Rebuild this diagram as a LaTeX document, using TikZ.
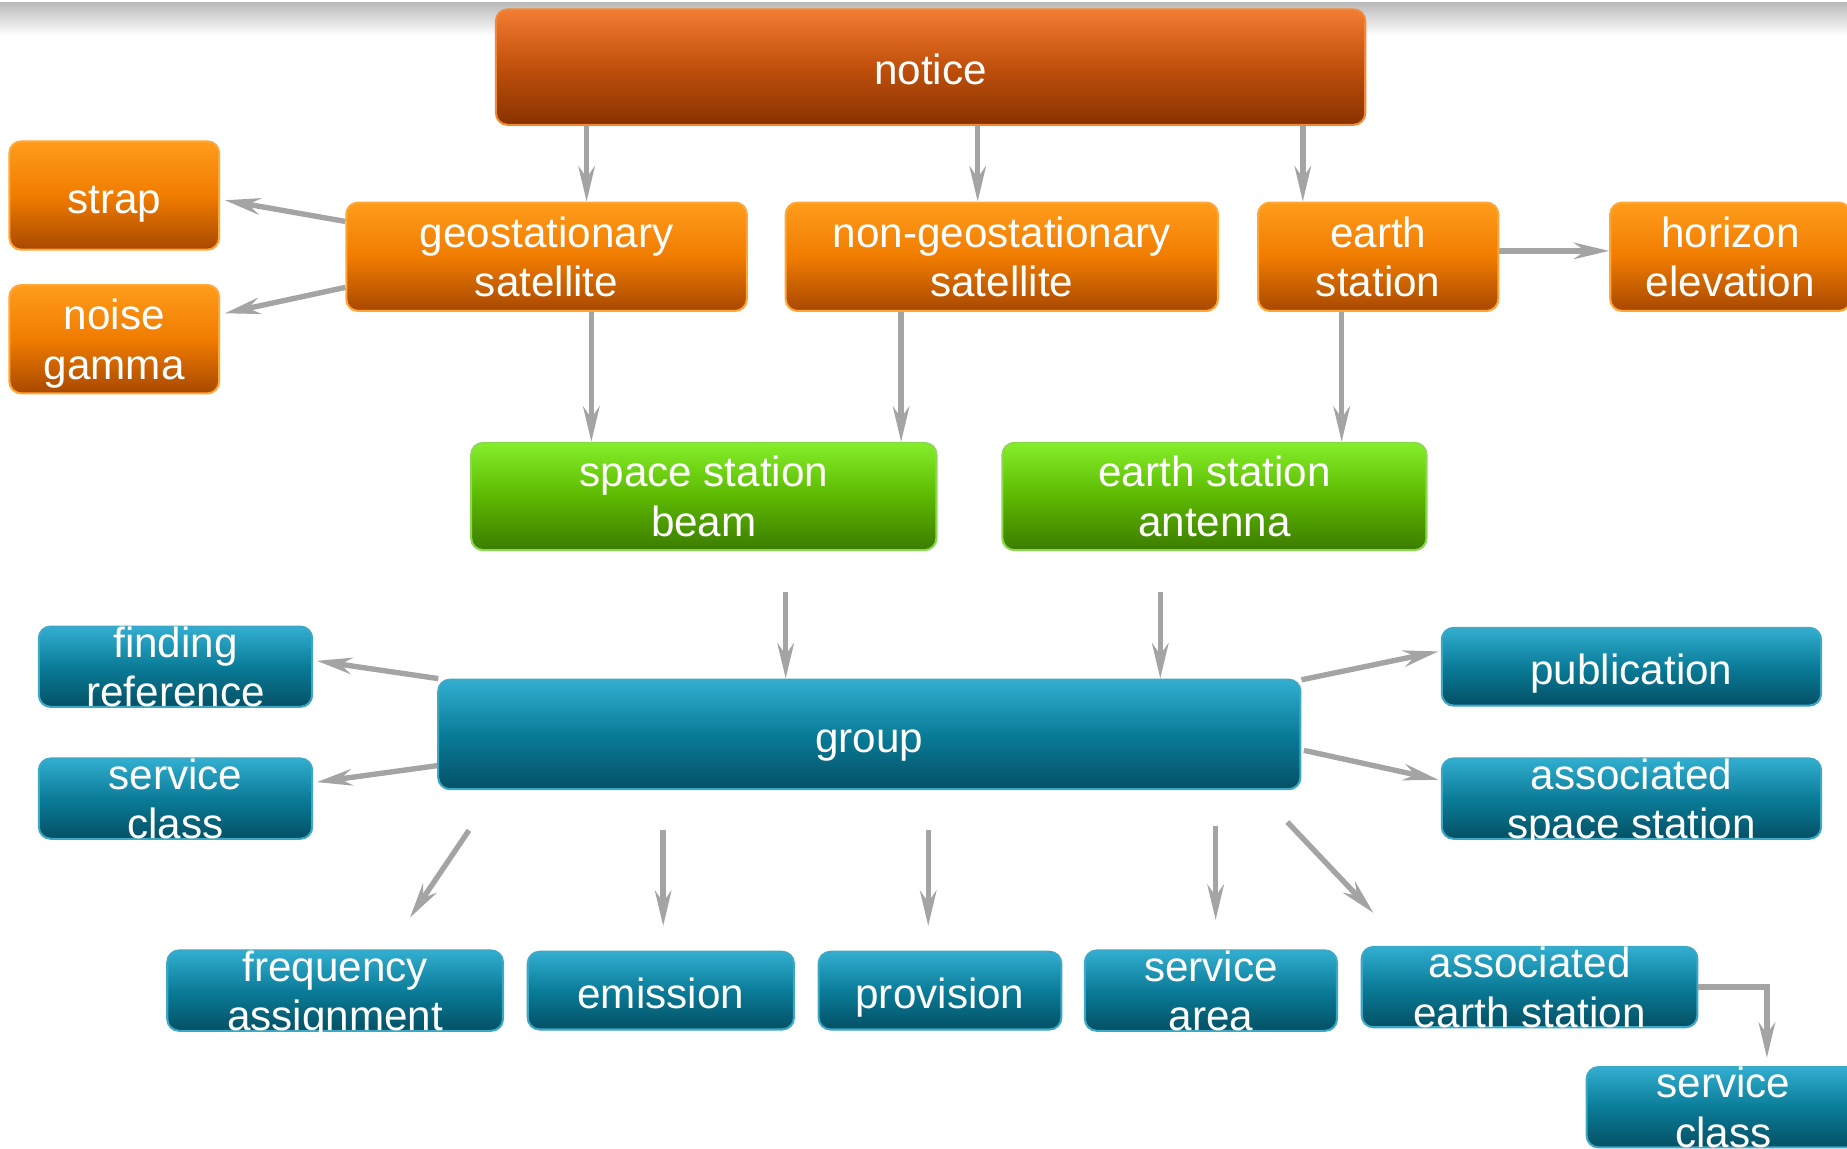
\documentclass[tikz,border=0pt]{standalone}
\usepackage{fontspec}
\setmainfont{Liberation Sans}
\usetikzlibrary{arrows.meta}

\definecolor{noticetop}{HTML}{F47B32}
\definecolor{noticemid}{HTML}{C0500C}
\definecolor{noticebot}{HTML}{873200}
\definecolor{noticeline}{HTML}{F08838}
\definecolor{orangetop}{HTML}{FF9C1C}
\definecolor{orangemid}{HTML}{F07C00}
\definecolor{orangebot}{HTML}{A84800}
\definecolor{orangeline}{HTML}{FFA638}
\definecolor{greentop}{HTML}{84EE2A}
\definecolor{greenmid}{HTML}{5CB800}
\definecolor{greenbot}{HTML}{3C7C00}
\definecolor{greenline}{HTML}{8CD850}
\definecolor{bluetop}{HTML}{32AED0}
\definecolor{bluemid}{HTML}{0A7C98}
\definecolor{bluebot}{HTML}{045064}
\definecolor{blueline}{HTML}{3CA8C6}
\definecolor{arrgray}{HTML}{A4A4A4}

\tikzset{
	box/.style = {rectangle, rounded corners = 0.1cm, inner sep = 0pt, align = center,
		text = white, font = \fontsize{10.2}{12}\selectfont, line width = 0.5pt,
		text height = 9.3pt, text depth = 0.8pt},
	twolines/.style = {text height = 19.4pt, text depth = -1pt},
	noticebox/.style = {box, draw = noticeline, top color = noticetop, bottom color = noticebot, middle color = noticemid},
	orangebox/.style = {box, draw = orangeline, top color = orangetop, bottom color = orangebot, middle color = orangemid},
	greenbox/.style = {box, draw = greenline, top color = greentop, bottom color = greenbot, middle color = greenmid},
	bluebox/.style = {box, draw = blueline, top color = bluetop, bottom color = bluebot, middle color = bluemid},
	arr/.style = {draw = arrgray, line width = 1.3pt, -{Stealth[length = 0.3cm, width = 0.14cm]}}
}

\begin{document}
\begin{tikzpicture}
		\useasboundingbox (0,0) rectangle (15.68,-9.746);
		\shade[top color = gray!55, bottom color = white] (0,-0.02) rectangle (15.68,-0.30);
		% top rows
		\node[noticebox, minimum width = 7.38cm, minimum height = 0.98cm] (notice) at (7.90,-0.57) {notice};
		\node[orangebox, minimum width = 1.78cm, minimum height = 0.92cm] (strap) at (0.97,-1.66) {strap};
		\node[orangebox, twolines, minimum width = 1.78cm, minimum height = 0.92cm] (noisegamma) at (0.97,-2.88) {noise\\gamma};
		\node[orangebox, twolines, minimum width = 3.40cm, minimum height = 0.92cm] (geo) at (4.64,-2.18) {geostationary\\satellite};
		\node[orangebox, twolines, minimum width = 3.67cm, minimum height = 0.92cm] (nongeo) at (8.505,-2.18) {non-geostationary\\satellite};
		\node[orangebox, twolines, minimum width = 2.04cm, minimum height = 0.92cm] (earth) at (11.70,-2.18) {earth\\station};
		\node[orangebox, twolines, minimum width = 2.04cm, minimum height = 0.92cm] (horizon) at (14.69,-2.18) {horizon\\elevation};
		\node[greenbox, twolines, minimum width = 3.95cm, minimum height = 0.91cm] (beam) at (5.975,-4.215) {space station\\beam};
		\node[greenbox, twolines, minimum width = 3.60cm, minimum height = 0.91cm] (antenna) at (10.31,-4.215) {earth station\\antenna};
		% group and its parts
		\node[bluebox, minimum width = 7.32cm, minimum height = 0.93cm] (group) at (7.38,-6.235) {group};
		\node[bluebox, twolines, minimum width = 2.32cm, minimum height = 0.66cm] (finding) at (1.49,-5.66) {finding\\reference};
		\node[bluebox, twolines, minimum width = 2.32cm, minimum height = 0.66cm] (servclassl) at (1.49,-6.78) {service\\class};
		\node[bluebox, minimum width = 3.22cm, minimum height = 0.66cm] (publication) at (13.85,-5.66) {publication};
		\node[bluebox, twolines, minimum width = 3.22cm, minimum height = 0.66cm] (assocspace) at (13.85,-6.78) {associated\\space station};
		\node[bluebox, twolines, minimum width = 2.85cm, minimum height = 0.66cm] (freq) at (2.845,-8.41) {frequency\\assignment};
		\node[bluebox, minimum width = 2.26cm, minimum height = 0.66cm] (emission) at (5.61,-8.41) {emission};
		\node[bluebox, minimum width = 2.06cm, minimum height = 0.66cm] (provision) at (7.98,-8.41) {provision};
		\node[bluebox, twolines, minimum width = 2.14cm, minimum height = 0.66cm] (servarea) at (10.28,-8.41) {service\\area};
		\node[bluebox, twolines, minimum width = 2.85cm, minimum height = 0.66cm] (assocearth) at (12.985,-8.38) {associated\\earth station};
		\node[bluebox, twolines, minimum width = 2.32cm, minimum height = 0.66cm] (servclassr) at (14.63,-9.40) {service\\class};
		% arrows
		\draw[arr] (notice.south -| 4.98,0) -- (geo.north -| 4.98,0);
		\draw[arr] (notice.south -| 8.30,0) -- (nongeo.north -| 8.30,0);
		\draw[arr] (notice.south -| 11.06,0) -- (earth.north -| 11.06,0);
		\draw[arr] ([yshift = 0.30cm]geo.west) -- ([xshift = 0.04cm, yshift = -0.04cm]strap.east);
		\draw[arr] ([yshift = -0.26cm]geo.west) -- ([xshift = 0.04cm, yshift = 0.22cm]noisegamma.east);
		\draw[arr] ([yshift = 0.05cm]earth.east) -- ([yshift = 0.05cm]horizon.west);
		\draw[arr] (geo.south -| 5.02,0) -- (beam.north -| 5.02,0);
		\draw[arr] (nongeo.south -| 7.65,0) -- (beam.north -| 7.65,0);
		\draw[arr] (earth.south -| 11.39,0) -- (antenna.north -| 11.39,0);
		\draw[arr, shorten <= 0.35cm] (beam.south -| 6.67,0) -- (group.north -| 6.67,0);
		\draw[arr, shorten <= 0.35cm] (antenna.south -| 9.85,0) -- (group.north -| 9.85,0);
		\draw[arr] ([xshift = 0.01cm]group.north west) -- ([xshift = 0.03cm, yshift = 0.05cm]finding.east);
		\draw[arr] ([yshift = -0.265cm]group.west) -- ([xshift = 0.03cm, yshift = 0.14cm]servclassl.east);
		\draw[arr] ([yshift = -0.01cm]group.north east) -- ([xshift = -0.02cm, yshift = 0.13cm]publication.west);
		\draw[arr] ([xshift = 0.02cm, yshift = -0.135cm]group.east) -- ([xshift = -0.02cm, yshift = 0.16cm]assocspace.west);
		\draw[arr] ([xshift = 0.27cm, yshift = -0.34cm]group.south west) -- ([xshift = 0.635cm, yshift = 0.27cm]freq.north);
		\draw[arr, shorten <= 0.34cm, shorten >= 0.21cm] (group.south -| 5.63,0) -- (emission.north -| 5.63,0);
		\draw[arr, shorten <= 0.34cm, shorten >= 0.21cm] (group.south -| 7.88,0) -- (provision.north -| 7.88,0);
		\draw[arr, shorten <= 0.30cm, shorten >= 0.25cm] (group.south -| 10.32,0) -- (servarea.north -| 10.32,0);
		\draw[arr] ([xshift = -0.12cm, yshift = -0.27cm]group.south east) -- ([xshift = -1.325cm, yshift = 0.28cm]assocearth.north);
		\draw[arr, shorten >= 0.07cm] (assocearth.east) -| (servclassr.north -| 15.00,0);
	\end{tikzpicture}
\end{document}
